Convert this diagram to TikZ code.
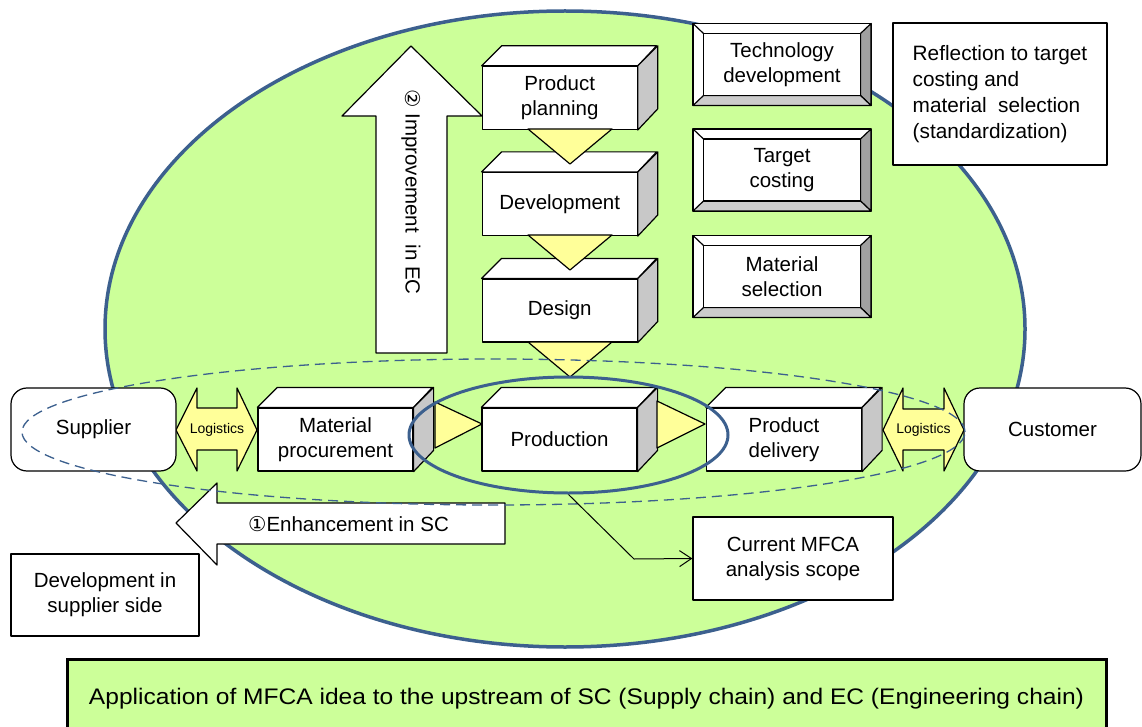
\documentclass[tikz,border=0pt]{standalone}
\usepackage{fontspec}
\setmainfont{Liberation Sans}
\newfontfamily\symf{DejaVu Sans}
\usetikzlibrary{shapes.geometric,arrows.meta,calc}
\definecolor{egreen}{RGB}{204,255,153}
\definecolor{eblue}{RGB}{60,96,142}
\definecolor{tri}{RGB}{255,255,153}
\definecolor{side}{RGB}{200,200,200}
\definecolor{bevdark}{RGB}{160,160,160}
\definecolor{bevlight}{RGB}{204,204,204}
\tikzset{
  lbl/.style={font=\fontsize{20.5}{25}\selectfont, align=center},
  face/.style={draw=black, line width=1.2pt, line join=round},
  front/.style={face, fill=white, minimum width=155pt, minimum height=63pt, inner sep=0pt, lbl},
  bevin/.style={face, fill=white, minimum width=157pt, minimum height=62pt, inner sep=0pt, lbl},
  plainbox/.style={face, fill=white, inner sep=0pt, lbl},
  trishape/.style={face, fill=tri},
  logi/.style={face, fill=tri},
  logitext/.style={font=\fontsize{14}{16}\selectfont},
  blockarrow/.style={face, fill=white},
}
\newcommand\cuboid[4]{%
  \node[front] (#1) at (#2,#3) {#4};
  \filldraw[face, fill=white] (#1.north west) -- ++(20,-20) -- ++(155,0) -- (#1.north east) -- cycle;
  \filldraw[face, fill=side] (#1.north east) -- ++(20,-20) -- ++(0,63) -- (#1.south east) -- cycle;
}
\newcommand\bevelbox[4]{%
  \begin{scope}[shift={(#2,#3)}]
    \filldraw[face, fill=white] (-89,-41) rectangle (89,41);
    \filldraw[face, fill=bevdark] (89,-41) -- (78.5,-31) -- (78.5,31) -- (89,41) -- cycle;
    \filldraw[face, fill=bevlight] (-89,41) -- (-78.5,31) -- (78.5,31) -- (89,41) -- cycle;
    \draw[face] (-89,-41) -- (-78.5,-31);
  \end{scope}
  \node[bevin] (#1) at (#2,#3) {#4};
}
\begin{document}
\begin{tikzpicture}[x=1pt,y=-1pt]
\clip (0,0) rectangle (1142,727);
\fill[white] (0,0) rectangle (1142,727);
% big green ellipse
\filldraw[fill=egreen, draw=eblue, line width=3.5pt] (565,329) ellipse [x radius=460pt, y radius=318pt];
% bottom banner
\node[draw=black, line width=3pt, fill=egreen, minimum width=1039pt, minimum height=80pt, inner sep=0pt] (app) at (586.5,699)
  {\fontsize{22.5}{26}\selectfont\resizebox{995pt}{\height}{Application of MFCA idea to the upstream of SC (Supply chain) and EC (Engineering chain)}};
% improvement arrow
\filldraw[blockarrow] (411,46) -- (482,116) -- (447,116) -- (447,353) -- (376,353) -- (376,116) -- (342,116) -- cycle;
\node[lbl, rotate=-90] (imp) at (411,192) {{\symf ②} Improvement\ \ in EC};
% cuboids
\cuboid{plan}{559.7}{97.9}{Product\\planning}
\cuboid{dev}{559.7}{204}{Development}
\cuboid{des}{559.7}{310.5}{Design}
\cuboid{mat}{335.5}{439.5}{Material\\procurement}
\cuboid{prod}{559.5}{439.5}{Production}
\cuboid{deliv}{784}{439.5}{Product\\delivery}
% flow triangles
\filldraw[trishape] (528,129) -- (612,129) -- (570,164) -- cycle;
\filldraw[trishape] (528,235) -- (612,235) -- (570,270) -- cycle;
\filldraw[trishape] (528,342) -- (612,342) -- (570,377) -- cycle;
\filldraw[trishape] (435,402) -- (435,448) -- (482,424) -- cycle;
\filldraw[trishape] (657,401) -- (657,448) -- (705,424) -- cycle;
% bevel boxes
\bevelbox{tech}{782}{64.5}{Technology\\development}
\bevelbox{target}{782}{170}{Target\\costing}
\bevelbox{matsel}{782}{276.5}{Material\\selection}
% reflection box
\node[plainbox, minimum width=214pt, minimum height=142pt, font=\fontsize{20.8}{26}\selectfont, align=left] (refl) at (1000,94)
  {Reflection to target\\costing and\\material\ \ selection\\(standardization)};
% logistics
\filldraw[logi] (176,430) -- (197,388) -- (197,408) -- (237,408) -- (237,388) -- (257,430) -- (237,471) -- (237,450) -- (197,450) -- (197,471) -- cycle;
\node[logitext] (log1) at (217,430) {Logistics};
\filldraw[logi] (883,430) -- (903,388) -- (903,409) -- (944,409) -- (944,388) -- (964,430) -- (944,471) -- (944,450) -- (903,450) -- (903,471) -- cycle;
\node[logitext] (log2) at (923.5,430) {Logistics};
% supplier / customer
\node[plainbox, rounded corners=16pt, minimum width=165pt, minimum height=83pt] (sup) at (93.5,429.5) {Supplier};
\node[plainbox, rounded corners=16pt, minimum width=177pt, minimum height=83pt] (cust) at (1052.5,429.5) {Customer};
% enhancement arrow
\filldraw[blockarrow] (176,523) -- (217,483) -- (217,503) -- (505,503) -- (505,544) -- (217,544) -- (217,565) -- cycle;
\node[lbl] (enh) at (348.5,524) {{\symf ①}Enhancement in SC};
% development in supplier side
\node[plainbox, minimum width=188pt, minimum height=82pt] (devsup) at (105,595) {Development in\\supplier side};
% current MFCA
\node[plainbox, minimum width=200pt, minimum height=83pt] (mfca) at (793,558.5) {Current MFCA\\analysis scope};
% scope ellipses
\node[ellipse, draw=eblue, line width=3pt, minimum width=319pt, minimum height=116pt, inner sep=0pt] (scopeell) at (568.5,435) {};
\draw[eblue, line width=1.3pt, dash pattern=on 10pt off 6pt] (493.5,432) ellipse [x radius=471.5pt, y radius=73pt];
% connector
\coordinate (bend) at (634,559);
\draw[line width=1pt, -{Straight Barb[length=12pt,width=16pt,line width=1pt]}] (scopeell.south) -- (bend) -- (mfca.west);
\end{tikzpicture}
\end{document}
